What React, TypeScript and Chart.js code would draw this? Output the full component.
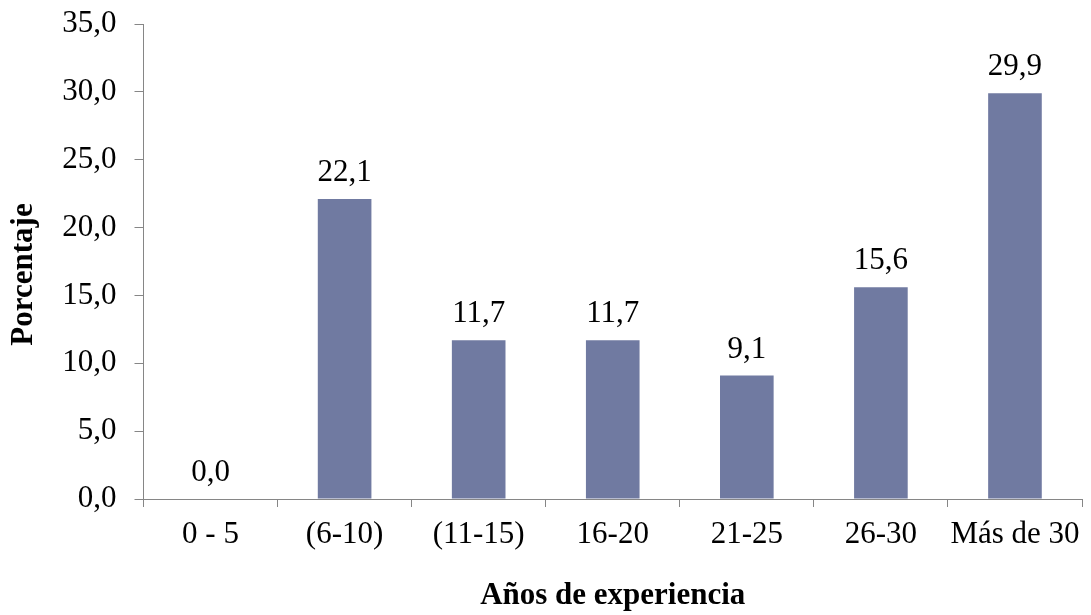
import React, { useEffect, useRef } from "react";
import { Chart, registerables } from "chart.js";

Chart.register(...registerables);

const categories = ["0 - 5", "(6-10)", "(11-15)", "16-20", "21-25", "26-30", "Más de 30"];
const percentages = [0.0, 22.1, 11.7, 11.7, 9.1, 15.6, 29.9];
const yTicks = [0, 5, 10, 15, 20, 25, 30, 35];
const yTitle = "Porcentaje";

const FONT = "'Liberation Serif', 'Times New Roman', serif";
const AXIS_COLOR = "#868686";
const BAR_COLOR = "#707AA1";

const fmt = (v: number) => v.toFixed(1).replace(".", ",");

const valueLabels = {
  id: "valueLabels",
  afterDatasetsDraw(chart: any) {
    const ctx = chart.ctx;
    const meta = chart.getDatasetMeta(0);
    const data = chart.data.datasets[0].data as number[];
    ctx.save();
    ctx.font = `31px ${FONT}`;
    ctx.fillStyle = "#000";
    ctx.textAlign = "center";
    ctx.textBaseline = "alphabetic";
    meta.data.forEach((bar: any, i: number) => {
      ctx.fillText(fmt(data[i]), bar.x, bar.y - 18);
    });
    ctx.restore();
  },
};

const yTitlePlugin = {
  id: "yTitlePlugin",
  afterDraw(chart: any) {
    const ctx = chart.ctx;
    const area = chart.chartArea;
    ctx.save();
    ctx.font = `bold 31px ${FONT}`;
    ctx.fillStyle = "#000";
    ctx.textAlign = "center";
    ctx.textBaseline = "middle";
    ctx.translate(24, (area.top + area.bottom) / 2 + 13);
    ctx.rotate(-Math.PI / 2);
    ctx.fillText(yTitle, 0, 0);
    ctx.restore();
  },
};

export default function App() {
  const ref = useRef<HTMLCanvasElement>(null);
  useEffect(() => {
    if (!ref.current) return;
    const chart = new Chart(ref.current, {
      type: "bar",
      data: {
        labels: categories,
        datasets: [
          {
            data: percentages,
            backgroundColor: BAR_COLOR,
            barPercentage: 0.4,
            categoryPercentage: 1,
          },
        ],
      },
      options: {
        animation: false,
        responsive: false,
        maintainAspectRatio: false,
        layout: { padding: { top: 24, right: 9, left: 0, bottom: 0 } },
        plugins: { legend: { display: false }, tooltip: { enabled: false } },
        scales: {
          x: {
            grid: {
              offset: true,
              drawOnChartArea: false,
              drawTicks: true,
              tickLength: 8,
              color: AXIS_COLOR,
            },
            border: { color: AXIS_COLOR, width: 1 },
            ticks: {
              color: "#000",
              font: { family: FONT, size: 31 },
              padding: 9,
              maxRotation: 0,
              autoSkip: false,
            },
            title: {
              display: true,
              text: "Años de experiencia",
              color: "#000",
              font: { family: FONT, size: 31, weight: "bold" },
              padding: { top: 14, bottom: 0 },
            },
            afterFit(scale: any) {
              scale.height = 116;
              scale.paddingLeft = 0;
              scale.paddingRight = 0;
            },
          },
          y: {
            min: 0,
            max: 35,
            afterBuildTicks(scale: any) {
              scale.ticks = yTicks.map((v) => ({ value: v }));
            },
            grid: {
              drawOnChartArea: false,
              drawTicks: true,
              tickLength: 9,
              color: AXIS_COLOR,
            },
            border: { color: AXIS_COLOR, width: 1 },
            ticks: {
              color: "#000",
              font: { family: FONT, size: 31 },
              padding: 18,
              callback: (v: any) => fmt(Number(v)),
            },
            title: { display: false },
            afterFit(scale: any) {
              scale.width = 143.5;
              scale.paddingTop = 0;
              scale.paddingBottom = 0;
            },
          },
        },
      },
      plugins: [valueLabels, yTitlePlugin],
    });
    return () => chart.destroy();
  }, []);
  return (
    <div style={{ position: "absolute", left: 0, top: 0, width: 1091, height: 615 }}>
      <canvas ref={ref} width={1091} height={615} style={{ width: 1091, height: 615 }} />
    </div>
  );
}
